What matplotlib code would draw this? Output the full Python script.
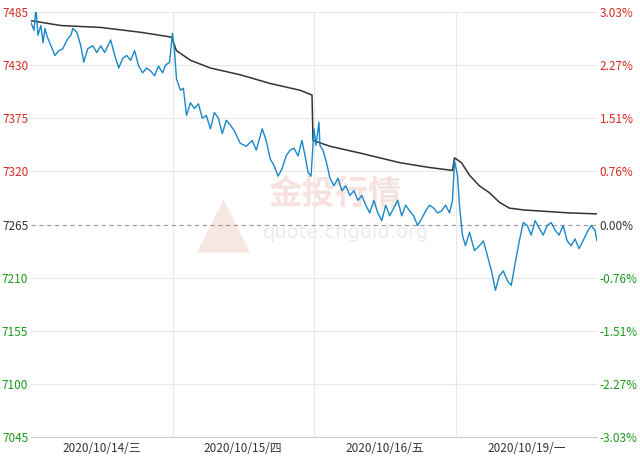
import matplotlib.pyplot as plt
import numpy as np

plt.rcParams['font.family'] = ['Noto Sans CJK SC', 'DejaVu Sans']

# time in trading days (0..4), prices
t_price = [0.000, 0.021, 0.035, 0.049, 0.070, 0.085, 0.099, 0.113, 0.141, 0.169, 0.197, 0.225, 0.254, 0.282,
           0.296, 0.324, 0.352, 0.373, 0.401, 0.437, 0.465, 0.493, 0.521, 0.563, 0.592, 0.620, 0.648, 0.676,
           0.704, 0.732, 0.761, 0.789, 0.817, 0.845, 0.873, 0.901, 0.930, 0.951, 0.979, 1.000, 1.014, 1.028,
           1.056, 1.077, 1.099, 1.127, 1.155, 1.183, 1.211, 1.239, 1.268, 1.296, 1.324, 1.352, 1.380, 1.408,
           1.437, 1.479, 1.521, 1.563, 1.592, 1.634, 1.662, 1.690, 1.718, 1.746, 1.775, 1.803, 1.831, 1.859,
           1.887, 1.915, 1.937, 1.958, 1.979, 2.000, 2.014, 2.035, 2.042, 2.063, 2.085, 2.113, 2.141, 2.169,
           2.197, 2.225, 2.254, 2.282, 2.310, 2.338, 2.366, 2.394, 2.423, 2.451, 2.479, 2.507, 2.535, 2.563,
           2.592, 2.620, 2.648, 2.676, 2.704, 2.732, 2.761, 2.789, 2.817, 2.845, 2.873, 2.901, 2.930, 2.958,
           2.979, 2.993, 3.014, 3.028, 3.049, 3.070, 3.099, 3.134, 3.169, 3.197, 3.225, 3.254, 3.282, 3.310,
           3.338, 3.366, 3.394, 3.423, 3.451, 3.479, 3.507, 3.535, 3.563, 3.592, 3.620, 3.648, 3.676, 3.704,
           3.732, 3.761, 3.789, 3.817, 3.845, 3.873, 3.901, 3.930, 3.958, 3.986, 4.000]
price = [7474, 7466, 7489, 7461, 7471, 7453, 7468, 7460, 7450, 7440, 7445, 7447, 7456, 7461,
         7468, 7464, 7450, 7433, 7447, 7450, 7443, 7450, 7443, 7456, 7440, 7427, 7437, 7440,
         7435, 7445, 7429, 7422, 7427, 7424, 7419, 7429, 7422, 7430, 7433, 7463, 7445, 7416,
         7404, 7406, 7378, 7391, 7385, 7390, 7375, 7378, 7364, 7381, 7375, 7359, 7373, 7368,
         7362, 7349, 7346, 7352, 7342, 7364, 7352, 7333, 7326, 7315, 7323, 7336, 7342, 7344,
         7336, 7352, 7336, 7319, 7315, 7364, 7347, 7371, 7347, 7342, 7331, 7313, 7305, 7313,
         7300, 7305, 7295, 7300, 7290, 7295, 7285, 7277, 7290, 7277, 7269, 7285, 7274, 7282,
         7290, 7274, 7285, 7279, 7274, 7264, 7271, 7279, 7285, 7282, 7277, 7279, 7285, 7277,
         7290, 7331, 7316, 7285, 7254, 7243, 7257, 7238, 7243, 7248, 7233, 7217, 7197, 7212,
         7217, 7207, 7202, 7226, 7248, 7267, 7264, 7254, 7269, 7261, 7254, 7264, 7267, 7259,
         7254, 7264, 7248, 7243, 7250, 7240, 7248, 7257, 7264, 7259, 7248]

t_avg = [0.000, 0.211, 0.493, 0.775, 0.993, 1.028, 1.127, 1.268, 1.479, 1.690, 1.901, 1.986, 1.993,
         2.113, 2.324, 2.606, 2.817, 2.979, 2.993, 3.042, 3.099, 3.169, 3.239, 3.310, 3.380, 3.486,
         3.592, 3.803, 4.000]
avg = [7476, 7471, 7469, 7464, 7459, 7445, 7435, 7427, 7420, 7411, 7404, 7399, 7352,
       7346, 7339, 7329, 7324, 7321, 7334, 7329, 7316, 7305, 7298, 7288, 7282, 7280,
       7279, 7277, 7276]

base = 7265
yticks = [7485, 7430, 7375, 7320, 7265, 7210, 7155, 7100, 7045]
pct_labels = ['3.03%', '2.27%', '1.51%', '0.76%', '0.00%', '-0.76%', '-1.51%', '-2.27%', '-3.03%']
dates = ['2020/10/14/三', '2020/10/15/四', '2020/10/16/五', '2020/10/19/一']

fig = plt.figure(figsize=(6.4, 4.58), dpi=100)
ax = fig.add_axes([31/640, 21/458, 566/640, 425/458])
ax.set_xlim(0, 4)
ax.set_ylim(7045, 7485)

for y in yticks:
    if y != base:
        ax.axhline(y, color='#e8e8e8', lw=0.8, zorder=0)
for d in [1, 2, 3]:
    ax.axvline(d, color='#e8e8e8', lw=0.8, zorder=0)
ax.axhline(base, color='#999999', lw=0.8, ls=(0, (4, 3)), zorder=1)

# watermark
ax.text(0.42, 0.57, '金投行情', transform=ax.transAxes, fontsize=24, color='#f6e2de',
        ha='left', va='center', zorder=0, fontweight='bold')
ax.text(0.41, 0.48, 'quote.cngold.org', transform=ax.transAxes, fontsize=14, color='#ececec',
        ha='left', va='center', zorder=0, family=['DejaVu Sans'])
ax.text(0.34, 0.50, '▲', transform=ax.transAxes, fontsize=50, color='#f8e6e2',
        ha='center', va='center', zorder=0, family=['DejaVu Sans'])

ax.plot(t_avg, avg, color='#333333', lw=1.1)
ax.plot(t_price, price, color='#1a87c9', lw=1.0)

ax.set_yticks(yticks)
ax.set_yticklabels([str(y) for y in yticks])
ax.set_xticks([0.5, 1.5, 2.5, 3.5])
ax.set_xticklabels(dates)
ax.tick_params(length=0, labelsize=8.5, colors='#333333')
ax.tick_params(axis='y', pad=2)
for lab, y in zip(ax.get_yticklabels(), yticks):
    lab.set_color('#d62b1f' if y > base else ('#333333' if y == base else '#1a9a1a'))

ax2 = ax.twinx()
ax2.set_ylim(7045, 7485)
ax2.set_yticks(yticks)
ax2.set_yticklabels(pct_labels)
ax2.tick_params(length=0, labelsize=8.5, pad=2)
for lab, y in zip(ax2.get_yticklabels(), yticks):
    lab.set_color('#d62b1f' if y > base else ('#333333' if y == base else '#1a9a1a'))

for a in (ax, ax2):
    for s in a.spines.values():
        s.set_visible(False)
ax.spines['bottom'].set_visible(True)
ax.spines['bottom'].set_color('#cccccc')

fig.savefig('out.png', dpi=100)
